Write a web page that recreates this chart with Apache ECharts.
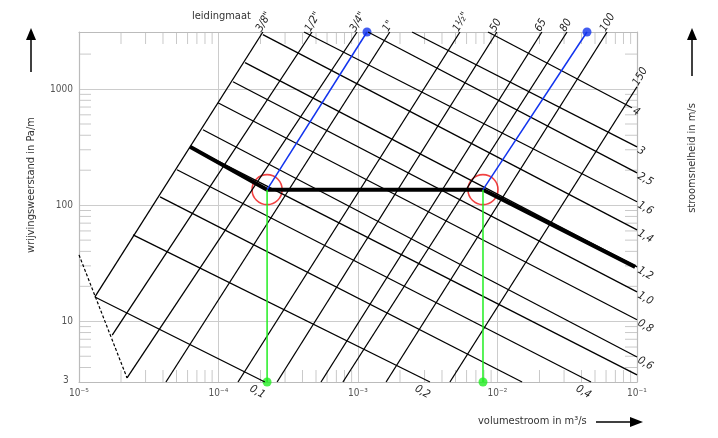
<!DOCTYPE html>
<html>
<head>
<meta charset="utf-8">
<script src="https://cdn.jsdelivr.net/npm/echarts@6/dist/echarts.min.js"></script>
<style>html,body{margin:0;padding:0;background:#fff}#c{width:718px;height:438px}</style>
</head>
<body>
<div id="c"></div>
<script>
// pipe size lines (steep), endpoints [Q m3/s, R Pa/m]
const pipeNames = ['3/8"', '1/2"', '3/4"', '1"', '1½"', '50', '65', '80', '100', '150'];
const pipeFrom = [[1.30e-5, 16.2], [1.73e-5, 7.6], [2.21e-5, 3.25], [4.2e-5, 3], [1.38e-4, 3], [2.63e-4, 3], [5.43e-4, 3], [7.8e-4, 3], [1.59e-3, 3], [4.56e-3, 3]];
const pipeTo = [[2.08e-4, 3100], [4.68e-4, 3100], [9.84e-4, 3100], [1.69e-3, 3100], [5.38e-3, 3100], [9.9e-3, 3100], [2.08e-2, 3100], [3.15e-2, 3100], [6.1e-2, 3100], [0.1, 1047]];

// velocity lines (falling)
const velNames = ['0,1', '0,2', '', '0,4', '', '0,6', '0,8', '1,0', '1,2', '1,4', '1,6', '2,5', '3', '4'];
const velFrom = [[1.30e-5, 16.2], [2.44e-5, 55.5], [3.81e-5, 118], [5.04e-5, 202], [6.25e-5, 318], [7.74e-5, 446], [9.9e-5, 762], [1.27e-4, 1156], [1.55e-4, 1687], [2.08e-4, 2940], [4.1e-4, 3100], [1.18e-3, 3100], [2.44e-3, 3100], [8.55e-3, 3100]];
const velTo = [[2.15e-4, 3], [3.28e-3, 3], [1.5e-2, 3], [4.68e-2, 3], [0.1, 3.45], [0.1, 4.93], [0.1, 10.3], [0.1, 17.9], [0.1, 29.4], [0.1, 61.2], [0.1, 107], [0.1, 190], [0.1, 318], [9.2e-2, 690]];

const dashedLine = [[1e-5, 37.3], [2.21e-5, 3.25]];
const pathLine = [[6.25e-5, 318], [2.23e-4, 136], [7.87e-3, 136], [9.7e-2, 29.4]];
const circles = [[2.23e-4, 136], [7.87e-3, 136]];
const blueDots = [[1.16e-3, 3100], [4.38e-2, 3100]];
const greenDots = [[2.23e-4, 3], [7.87e-3, 3]];

const xMin = 1e-5, xMax = 0.1, yMin = 3, yMax = 3100;
const sup = {'-': '⁻', '1': '¹', '2': '²', '3': '³', '4': '⁴', '5': '⁵'};

const xTicks = [], yTicks = [];
for (let e = -5; e < -1; e++) for (let k = 2; k <= 9; k++) xTicks.push(k * Math.pow(10, e));
for (let e = 0; e <= 3; e++) for (let k = 1; k <= 9; k++) {
  const v = k * Math.pow(10, e);
  if (v > 3 && v < 3000 && k !== 1) yTicks.push(v);
}

const chart = echarts.init(document.getElementById('c'));
const font = "'Liberation Sans Narrow', 'DejaVu Sans Condensed', sans-serif";
const series = [];

pipeNames.forEach((n, i) => {
  series.push({
    type: 'line', data: [pipeFrom[i], pipeTo[i]], symbol: 'none', silent: true,
    lineStyle: {color: '#000', width: 1.3},
    endLabel: {show: true, formatter: n, rotate: 60, fontFamily: font, fontStyle: 'italic',
      fontSize: 11, color: '#222', distance: 2, offset: i === 9 ? [0, -4] : [-2, -6]}
  });
});
velNames.forEach((n, i) => {
  const bottom = velTo[i][1] <= 3;
  series.push({
    type: 'line', data: [velFrom[i], velTo[i]], symbol: 'none', silent: true,
    lineStyle: {color: '#000', width: 1.3},
    endLabel: {show: n !== '', formatter: n, rotate: -30, fontFamily: font, fontStyle: 'italic',
      fontSize: 11, color: '#222', distance: 3, offset: bottom ? [-12, 14] : [0, 3]}
  });
});
series.push({type: 'line', data: dashedLine, symbol: 'none', silent: true,
  lineStyle: {color: '#000', width: 1.2, type: [3, 2]}});
series.push({type: 'line', data: pathLine, symbol: 'none', silent: true,
  lineStyle: {color: '#000', width: 4}});
circles.forEach((c, i) => {
  series.push({type: 'line', data: [c, greenDots[i]], symbol: 'none', silent: true, clip: false,
    lineStyle: {color: '#22ee22', width: 1.5}});
  series.push({type: 'line', data: [c, blueDots[i]], symbol: 'none', silent: true, clip: false,
    lineStyle: {color: '#1133ee', width: 1.5}});
});
series.push({type: 'scatter', data: circles, symbolSize: 30, silent: true, clip: false,
  itemStyle: {color: 'rgba(0,0,0,0)', borderColor: '#ee1111', borderWidth: 1.6}});
series.push({type: 'scatter', data: blueDots, symbolSize: 9, silent: true, clip: false, itemStyle: {color: '#1133ee'}});
series.push({type: 'scatter', data: greenDots, symbolSize: 9, silent: true, clip: false, itemStyle: {color: '#22ee22'}});
// minor tick marks on the frame
const tickStyle = {color: '#bbb'};
series.push({type: 'scatter', data: xTicks.map(v => [v, yMin]), symbol: 'rect', symbolSize: [1, 12], symbolOffset: [0, -6], silent: true, clip: false, itemStyle: tickStyle, z: 1});
series.push({type: 'scatter', data: xTicks.map(v => [v, yMax]), symbol: 'rect', symbolSize: [1, 12], symbolOffset: [0, 6], silent: true, clip: false, itemStyle: tickStyle, z: 1});
series.push({type: 'scatter', data: yTicks.map(v => [xMin, v]), symbol: 'rect', symbolSize: [12, 1], symbolOffset: [6, 0], silent: true, clip: false, itemStyle: tickStyle, z: 1});
series.push({type: 'scatter', data: yTicks.map(v => [xMax, v]), symbol: 'rect', symbolSize: [12, 1], symbolOffset: [-6, 0], silent: true, clip: false, itemStyle: tickStyle, z: 1});

const axisLine = {show: true, lineStyle: {color: '#bbb', width: 1.2}};
const split = {show: true, lineStyle: {color: '#ccc', width: 1}};
const option = {
  animation: false,
  grid: {left: 79, right: 81, top: 32, bottom: 56},
  xAxis: [{
    type: 'log', min: xMin, max: xMax, logBase: 10, axisLine, splitLine: split,
    axisTick: {show: false},
    axisLabel: {fontFamily: font, fontSize: 10, color: '#555', margin: 6,
      formatter: v => '10' + String(Math.round(Math.log10(v))).split('').map(c => sup[c]).join('')}
  }, {
    type: 'log', min: xMin, max: xMax, position: 'top', axisLine, axisTick: {show: false}, axisLabel: {show: false}, splitLine: {show: false}
  }],
  yAxis: [{
    type: 'log', min: yMin, max: yMax, axisLine, splitLine: split, axisTick: {show: false},
    axisLabel: {fontFamily: font, fontSize: 10, color: '#555', margin: 6,
      formatter: v => ([10, 100, 1000].indexOf(Math.round(v)) >= 0 ? String(Math.round(v)) : '')}
  }, {
    type: 'log', min: yMin, max: yMax, position: 'right', axisLine, axisTick: {show: false}, axisLabel: {show: false}, splitLine: {show: false}
  }],
  series,
  graphic: [
    {type: 'text', left: 63, top: 375, style: {text: '3', font: '10px ' + font, fill: '#555'}},
    {type: 'text', left: 192, top: 11, style: {text: 'leidingmaat', font: '11px ' + font, fill: '#333'}},
    {type: 'text', x: 31, y: 185, rotation: Math.PI / 2, style: {text: 'wrijvingsweerstand in Pa/m', font: '11px ' + font, fill: '#333', align: 'center', verticalAlign: 'middle'}},
    {type: 'line', shape: {x1: 31, y1: 72, x2: 31, y2: 36}, style: {stroke: '#000', lineWidth: 1.5}},
    {type: 'polygon', shape: {points: [[26, 40], [36, 40], [31, 28]]}, style: {fill: '#000'}},
    {type: 'text', x: 692, y: 158, rotation: Math.PI / 2, style: {text: 'stroomsnelheid in m/s', font: '11px ' + font, fill: '#333', align: 'center', verticalAlign: 'middle'}},
    {type: 'line', shape: {x1: 692, y1: 76, x2: 692, y2: 36}, style: {stroke: '#000', lineWidth: 1.5}},
    {type: 'polygon', shape: {points: [[687, 40], [697, 40], [692, 28]]}, style: {fill: '#000'}},
    {type: 'text', left: 478, top: 416, style: {text: 'volumestroom in m³/s', font: '11px ' + font, fill: '#333'}},
    {type: 'line', shape: {x1: 596, y1: 422, x2: 634, y2: 422}, style: {stroke: '#000', lineWidth: 1.5}},
    {type: 'polygon', shape: {points: [[630, 417], [630, 427], [643, 422]]}, style: {fill: '#000'}}
  ]
};
chart.setOption(option);
</script>
</body>
</html>
